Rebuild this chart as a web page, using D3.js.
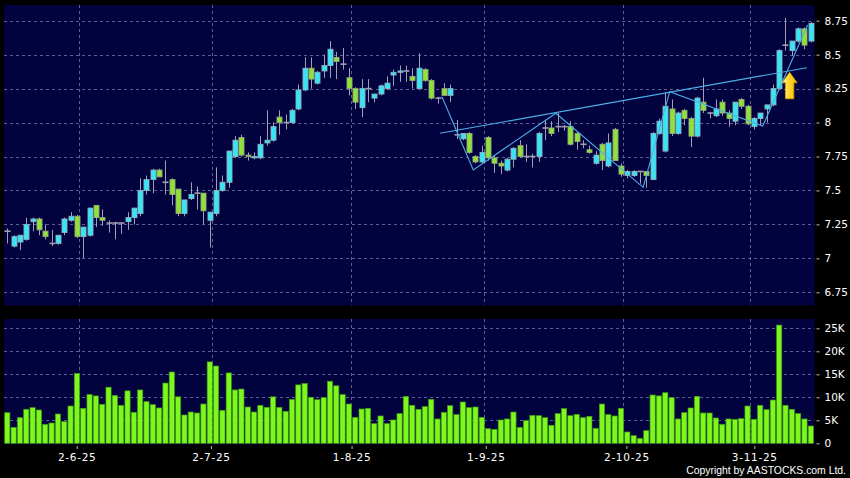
<!DOCTYPE html>
<html>
<head>
<meta charset="utf-8">
<script src="https://cdn.jsdelivr.net/npm/d3@7"></script>
<style>
  html, body { margin: 0; padding: 0; background: #000; }
  svg { display: block; }
</style>
</head>
<body>
<svg id="chart" width="850" height="478"></svg>
<script>
// ---------- DATA ----------
const opens = [7.20,7.09,7.12,7.14,7.27,7.29,7.20,7.11,7.11,7.19,
  7.28,7.31,7.16,7.17,7.39,7.30,7.26,7.26,7.26,7.27,
  7.30,7.33,7.50,7.58,7.65,7.56,7.58,7.51,7.33,7.44,
  7.48,7.48,7.28,7.33,7.50,7.56,7.75,7.89,7.76,7.74,
  7.74,7.85,7.87,8.04,8.00,8.00,8.10,8.24,8.40,8.29,
  8.38,8.42,8.48,8.43,8.33,8.25,8.11,8.25,8.18,8.21,
  8.25,8.35,8.37,8.38,8.34,8.25,8.39,8.31,8.18,8.25,
  8.20,7.91,7.88,7.92,7.75,7.71,7.89,7.74,7.70,7.65,
  7.73,7.83,7.75,7.75,7.75,7.96,7.96,7.97,7.97,7.97,
  7.92,7.84,7.80,7.70,7.84,7.68,7.95,7.68,7.61,7.61,
  7.64,7.64,7.58,7.92,7.79,8.10,7.92,8.09,8.03,7.90,
  8.15,8.07,8.05,8.15,8.07,8.01,8.17,8.12,7.97,8.03,
  8.10,8.13,8.25,8.57,8.53,8.60,8.69,8.60];
const highs = [7.22,7.17,7.17,7.30,7.30,7.30,7.25,7.21,7.17,7.30,
  7.34,7.32,7.23,7.37,7.39,7.36,7.28,7.27,7.26,7.34,
  7.37,7.59,7.61,7.66,7.66,7.72,7.59,7.51,7.43,7.56,
  7.53,7.48,7.34,7.67,7.61,7.79,7.90,7.91,7.78,7.78,
  7.90,8.09,8.00,8.09,8.06,8.10,8.28,8.48,8.48,8.38,
  8.50,8.60,8.52,8.55,8.40,8.26,8.32,8.32,8.21,8.28,
  8.34,8.39,8.42,8.42,8.40,8.51,8.40,8.32,8.19,8.29,
  8.28,8.02,7.92,7.93,7.76,7.83,7.90,7.76,7.72,7.74,
  7.82,7.87,7.84,7.77,7.93,8.01,8.01,8.07,7.98,8.01,
  7.93,7.87,7.83,7.79,7.85,7.92,7.96,7.70,7.65,7.65,
  7.64,7.64,7.93,8.03,8.22,8.17,8.08,8.10,8.04,8.19,
  8.33,8.08,8.17,8.17,8.09,8.15,8.18,8.13,8.04,8.07,
  8.13,8.28,8.54,8.77,8.60,8.70,8.70,8.74];
const lows = [7.11,7.08,7.06,7.13,7.20,7.17,7.14,7.09,7.10,7.17,
  7.27,7.15,7.00,7.16,7.23,7.24,7.19,7.14,7.18,7.21,
  7.25,7.31,7.47,7.48,7.60,7.47,7.39,7.31,7.31,7.43,
  7.36,7.25,7.08,7.31,7.49,7.52,7.74,7.75,7.72,7.73,
  7.73,7.83,7.86,7.91,7.95,7.99,8.09,8.23,8.25,8.28,
  8.33,8.33,8.32,8.39,8.20,8.10,8.04,8.15,8.15,8.20,
  8.24,8.27,8.30,8.30,8.25,8.25,8.30,8.17,8.14,8.20,
  8.15,7.88,7.87,7.77,7.70,7.70,7.72,7.63,7.62,7.64,
  7.67,7.74,7.71,7.67,7.71,7.87,7.90,7.93,7.94,7.83,
  7.80,7.81,7.77,7.69,7.65,7.67,7.72,7.60,7.59,7.60,
  7.55,7.52,7.58,7.91,7.78,7.90,7.91,7.98,7.82,7.89,
  8.07,8.03,8.04,8.05,7.97,7.98,8.10,7.98,7.95,7.98,
  8.00,8.12,8.24,8.53,8.49,8.59,8.54,8.59];
const closes = [7.20,7.16,7.17,7.25,7.29,7.21,7.16,7.11,7.17,7.29,
  7.31,7.16,7.23,7.37,7.30,7.28,7.26,7.26,7.26,7.30,
  7.37,7.50,7.58,7.65,7.60,7.56,7.47,7.33,7.43,7.47,
  7.48,7.35,7.34,7.50,7.56,7.79,7.87,7.76,7.75,7.75,
  7.84,7.87,7.97,8.00,8.00,8.09,8.24,8.40,8.32,8.37,
  8.42,8.54,8.45,8.43,8.25,8.15,8.25,8.25,8.21,8.27,
  8.29,8.37,8.38,8.38,8.31,8.40,8.31,8.18,8.18,8.20,
  8.25,7.91,7.92,7.78,7.71,7.78,7.74,7.70,7.68,7.73,
  7.81,7.75,7.75,7.75,7.92,7.96,7.92,7.97,7.97,7.84,
  7.86,7.84,7.78,7.76,7.72,7.85,7.72,7.62,7.64,7.64,
  7.64,7.61,7.92,8.01,8.12,7.92,8.07,8.03,7.90,8.18,
  8.09,8.07,8.10,8.07,8.03,8.15,8.12,7.99,8.03,8.07,
  8.13,8.25,8.53,8.57,8.60,8.69,8.57,8.73];
// volume in thousands of shares
const volumes = [6.65,3.46,5.57,7.39,7.75,7.24,4.13,4.41,6.37,4.70,
  8.11,15.2,7.61,10.6,10.3,8.47,12.2,10.4,8.26,11.4,
  6.74,11.6,9.05,8.40,7.68,13.1,15.5,10.1,6.15,6.80,
  6.59,8.54,17.7,16.8,7.17,15.3,11.6,11.8,7.89,6.80,
  8.26,7.82,10.1,7.82,6.96,9.56,12.7,13.0,10.0,9.48,
  9.92,13.5,12.5,10.6,8.54,5.65,7.46,7.61,4.27,5.94,
  4.27,5.07,6.45,10.2,8.26,7.39,7.97,9.56,5.29,6.74,
  8.18,6.23,8.98,7.75,7.89,5.65,3.17,3.04,5.07,5.29,
  6.80,3.46,4.91,6.08,6.01,5.57,3.91,6.45,7.54,6.01,
  6.30,5.57,5.87,3.26,8.54,6.23,5.94,7.61,2.46,1.66,
  1.08,2.75,10.5,10.3,11.0,9.92,5.29,6.66,7.68,10.2,
  6.59,6.59,5.50,4.13,5.29,5.22,5.36,8.11,5.22,8.26,
  7.31,9.41,25.7,8.26,7.39,6.45,5.29,3.76];

const dateLabels = ["2-6-25","2-7-25","1-8-25","1-9-25","2-10-25","3-11-25"];
const dateLabelIndex = [11,32,54,75,97,117];
const priceTicks = [6.75,7,7.25,7.5,7.75,8,8.25,8.5,8.75];
const priceTickLabels = ["6.75","7","7.25","7.5","7.75","8","8.25","8.5","8.75"];
const volumeTicks = [0,5,10,15,20,25];
const volumeTickLabels = ["0","5K","10K","15K","20K","25K"];

// pattern lines (index, price)
const necklineIdx = [68.4, 126.4];
const necklinePrice = [7.921, 8.404];
const zigzagIdx = [68.7, 73.65, 86.7, 100.5, 104.7, 119.4, 126.5];
const zigzagPrice = [8.19, 7.651, 8.068, 7.523, 8.227, 7.975, 8.718];
// breakout arrow
const arrowIdx = 123.65;
const arrowTopPrice = 8.37;
const arrowBottomPrice = 8.175;

// ---------- LAYOUT ----------
const svg = d3.select("#chart");
const pricePanel = {x0: 4, x1: 814.5, y0: 5, y1: 305.5};
const volPanel = {x0: 4, x1: 814.5, y0: 319, y1: 444.5};

const n = closes.length;
const x = d3.scaleLinear().domain([0, n - 1]).range([7.3, 810.8]);
const xLabel = d3.scaleLinear().domain([0, n - 1]).range([6.4, 818.2]);
const y = d3.scaleLinear().domain([6.75, 8.75]).range([292.3, 20.7]);
const yv = d3.scaleLinear().domain([0, 25]).range([443.3, 328.3]);

const NAVY = "#02023f";
const GRID = "#5e5e96";
const UP = "#35e6f4";
const UP_EDGE = "#8fb0c0";
const DOWN = "#8ee23a";
const DOWN_EDGE = "#95a878";
const WICK = "#a0a0b4";
const VOL = "#7ef81c";
const VOL_EDGE = "#3f9a16";
const LINE = "#4eaee8";

svg.append("rect").attr("width", 850).attr("height", 478).attr("fill", "#000");

[pricePanel, volPanel].forEach(p => {
  svg.append("rect").attr("x", p.x0).attr("y", p.y0)
    .attr("width", p.x1 - p.x0).attr("height", p.y1 - p.y0).attr("fill", NAVY);
});

// grid
const grid = svg.append("g").attr("stroke", GRID).attr("stroke-width", 1)
  .attr("stroke-dasharray", "3,3");
priceTicks.forEach(t => {
  const yy = Math.round(y(t)) + 0.5;
  grid.append("line").attr("x1", pricePanel.x0).attr("x2", pricePanel.x1)
    .attr("y1", yy).attr("y2", yy);
});
volumeTicks.filter(t => t > 0).forEach(t => {
  const yy = Math.round(yv(t)) + 0.5;
  grid.append("line").attr("x1", volPanel.x0).attr("x2", volPanel.x1)
    .attr("y1", yy).attr("y2", yy);
});
dateLabelIndex.forEach(i => {
  const xx = Math.round(x(i) + 2.3) + 0.5;
  grid.append("line").attr("x1", xx).attr("x2", xx)
    .attr("y1", pricePanel.y0).attr("y2", pricePanel.y1);
  grid.append("line").attr("x1", xx).attr("x2", xx)
    .attr("y1", volPanel.y0).attr("y2", volPanel.y1);
});

// candles
const idx = d3.range(n);
const gC = svg.append("g");
gC.selectAll("line.wick").data(idx).join("line")
  .attr("x1", i => Math.round(x(i)) + 0.5).attr("x2", i => Math.round(x(i)) + 0.5)
  .attr("y1", i => y(highs[i])).attr("y2", i => y(lows[i]))
  .attr("stroke", WICK).attr("stroke-width", 1);

const isDoji = i => Math.abs(closes[i] - opens[i]) < 0.005;
gC.selectAll("rect.body").data(idx.filter(i => !isDoji(i))).join("rect")
  .attr("x", i => Math.round(x(i)) - 2)
  .attr("width", 5)
  .attr("y", i => y(Math.max(opens[i], closes[i])))
  .attr("height", i => Math.max(1, Math.abs(y(opens[i]) - y(closes[i]))))
  .attr("fill", i => closes[i] > opens[i] ? UP : DOWN)
  .attr("stroke", i => closes[i] > opens[i] ? UP_EDGE : DOWN_EDGE)
  .attr("stroke-width", 0.9);
gC.selectAll("line.doji").data(idx.filter(isDoji)).join("line")
  .attr("x1", i => Math.round(x(i)) - 2.5).attr("x2", i => Math.round(x(i)) + 3.5)
  .attr("y1", i => y(closes[i])).attr("y2", i => y(closes[i]))
  .attr("stroke", WICK).attr("stroke-width", 1.6);

// volume bars
svg.append("g").selectAll("rect").data(idx).join("rect")
  .attr("x", i => x(i) - 2.6).attr("width", 5.2)
  .attr("y", i => yv(volumes[i]))
  .attr("height", i => yv(0) - yv(volumes[i]))
  .attr("fill", VOL).attr("stroke", VOL_EDGE).attr("stroke-width", 0.7);

// pattern lines
const lineGen = d3.line().x(d => x(d[0])).y(d => y(d[1]));
const gL = svg.append("g").attr("fill", "none").attr("stroke", LINE).attr("stroke-width", 1.1);
gL.append("path").attr("d", lineGen(necklineIdx.map((d, k) => [d, necklinePrice[k]])));
gL.append("path").attr("d", lineGen(zigzagIdx.map((d, k) => [d, zigzagPrice[k]])));

// arrow
const defs = svg.append("defs");
const grad = defs.append("linearGradient").attr("id", "arrowGrad")
  .attr("x1", "0").attr("x2", "1").attr("y1", "0").attr("y2", "0");
grad.append("stop").attr("offset", "0%").attr("stop-color", "#fff6b0");
grad.append("stop").attr("offset", "45%").attr("stop-color", "#ffd830");
grad.append("stop").attr("offset", "100%").attr("stop-color", "#f0b400");
const ax = x(arrowIdx), aTop = y(arrowTopPrice), aBot = y(arrowBottomPrice);
const headH = 10.5, headW = 7.5, shaftW = 4.2;
const arrowPath = `M${ax},${aTop} L${ax + headW},${aTop + headH} L${ax + shaftW},${aTop + headH}
  L${ax + shaftW},${aBot} L${ax - shaftW},${aBot} L${ax - shaftW},${aTop + headH}
  L${ax - headW},${aTop + headH} Z`;
svg.append("path").attr("d", arrowPath).attr("fill", "url(#arrowGrad)")
  .attr("stroke", "#e09a00").attr("stroke-width", 0.8);

// axes
const FONT = "'DejaVu Sans', Verdana, sans-serif";
function styleAxis(g) {
  g.select(".domain").remove();
  g.selectAll(".tick line").attr("stroke", "#bbbbbb");
  g.selectAll(".tick text").attr("fill", "#ffffff")
    .attr("font-family", FONT).attr("font-size", "10.5px");
}
svg.append("g").attr("transform", "translate(816.5,0)")
  .call(d3.axisRight(y).tickValues(priceTicks).tickSize(3).tickPadding(5)
    .tickFormat((d, k) => priceTickLabels[k]))
  .call(styleAxis);
svg.append("g").attr("transform", "translate(816.5,0)")
  .call(d3.axisRight(yv).tickValues(volumeTicks).tickSize(3).tickPadding(5)
    .tickFormat((d, k) => volumeTickLabels[k]))
  .call(styleAxis);
svg.append("g").attr("transform", "translate(0,446)")
  .call(d3.axisBottom(xLabel).tickValues(dateLabelIndex).tickSize(3).tickPadding(5)
    .tickFormat((d, k) => dateLabels[k]))
  .call(styleAxis)
  .call(g => g.selectAll(".tick text").attr("letter-spacing", "0.7px"));

svg.append("text").attr("x", 846).attr("y", 473.5).attr("text-anchor", "end")
  .attr("fill", "#ffffff").attr("font-family", "'Liberation Sans', Arial, sans-serif")
  .attr("font-size", "10.4px")
  .text("Copyright by AASTOCKS.com Ltd.");
</script>
</body>
</html>
